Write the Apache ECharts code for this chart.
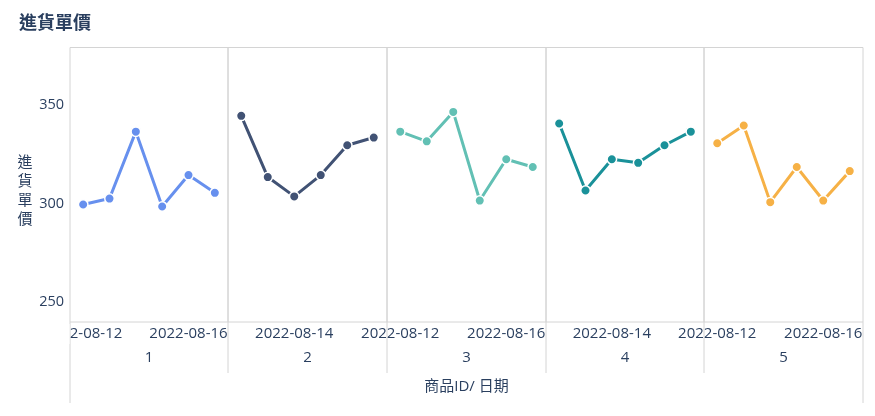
<!DOCTYPE html>
<html>
<head>
<meta charset="utf-8">
<script src="https://cdn.jsdelivr.net/npm/echarts@6/dist/echarts.min.js"></script>
<style>
html,body{margin:0;padding:0;background:#fff;}
#chart{width:875px;height:416px;}
</style>
</head>
<body>
<div id="chart"></div>
<script>
// ---- data ----
const dates = ['2022-08-12','2022-08-13','2022-08-14','2022-08-15','2022-08-16','2022-08-17'];
const productIds = ['1','2','3','4','5'];
const price1 = [299.5, 302.5, 336.4, 298.5, 314.4, 305.4];
const price2 = [344.4, 313.4, 303.6, 314.4, 329.5, 333.4];
const price3 = [336.4, 331.5, 346.4, 301.5, 322.4, 318.5];
const price4 = [340.5, 306.6, 322.4, 320.6, 329.5, 336.4];
const price5 = [330.5, 339.5, 300.7, 318.5, 301.5, 316.4];
const yTicks = [250, 300, 350];
const shownTicks = [[0,4],[2],[0,4],[2],[0,4]];
const titleText = '進貨單價';
const yTitle = '進貨單價';
const xTitle = '商品ID/ 日期';

// ---- styling / layout ----
const seriesData = [price1, price2, price3, price4, price5];
const colors = ['#6790ee', '#415274', '#62c0b4', '#1a9199', '#f6b146'];
const textColor = '#2a3f5f';
const lineColor = '#d4d4d4';
const font = '"Open Sans", "Noto Sans CJK TC", sans-serif';
const x0 = 69.5, pw = 158.7, plotTop = 47.5, plotBottom = 322;
const edge = i => Math.round(x0 + i * pw);

const grids = [], xAxes = [], yAxes = [], series = [], graphics = [];
productIds.forEach((pid, i) => {
  const l = edge(i), r = edge(i + 1);
  grids.push({ left: l, width: r - l, top: plotTop, height: plotBottom - plotTop,
    show: true, borderColor: lineColor, borderWidth: 1, backgroundColor: 'transparent' });
  xAxes.push({
    type: 'category', gridIndex: i, data: dates, boundaryGap: true,
    name: pid, nameLocation: 'middle', nameGap: 28,
    nameTextStyle: { color: textColor, fontSize: 15, fontFamily: font },
    axisLine: { show: false }, axisTick: { show: false }, splitLine: { show: false },
    axisLabel: { color: textColor, fontSize: 15, fontFamily: font, margin: 4,
      interval: (idx) => shownTicks[i].includes(idx) }
  });
  yAxes.push({
    type: 'value', gridIndex: i, min: 240, max: 379, interval: 10,
    axisLine: { show: false }, axisTick: { show: false }, splitLine: { show: false },
    axisLabel: { show: i === 0, color: textColor, fontSize: 14.5, fontFamily: font, margin: 6,
      formatter: v => yTicks.includes(v) ? String(v) : '' }
  });
  series.push({
    type: 'line', xAxisIndex: i, yAxisIndex: i, data: seriesData[i],
    symbol: 'circle', symbolSize: 9.5, showSymbol: true,
    lineStyle: { color: colors[i], width: 3 },
    itemStyle: { color: colors[i], borderColor: '#fff', borderWidth: 1.5 },
    emphasis: { disabled: true }, animation: false
  });
});
// facet separator extensions below the plot
for (let i = 0; i <= productIds.length; i++) {
  const outer = (i === 0 || i === productIds.length);
  graphics.push({ type: 'line', shape: { x1: edge(i), y1: plotBottom, x2: edge(i), y2: outer ? 403 : 373 },
    style: { stroke: lineColor, lineWidth: 1 }, z: 1 });
}
// clip the overflowing first tick label at the plot's left edge
graphics.push({ type: 'rect', shape: { x: 0, y: plotBottom + 2, width: edge(0) - 0.5, height: 20 },
  style: { fill: '#fff' }, z: 100 });
graphics.push({ type: 'text', x: 25, y: 191, z: 101,
  style: { text: yTitle.split('').join('\n'), fill: textColor, fontSize: 15, fontFamily: font,
    lineHeight: 19, textAlign: 'center', textVerticalAlign: 'middle' } });
graphics.push({ type: 'text', x: (edge(0) + edge(productIds.length)) / 2, y: 387, z: 101,
  style: { text: xTitle, fill: textColor, fontSize: 15, fontFamily: font,
    textAlign: 'center', textVerticalAlign: 'middle' } });

const chart = echarts.init(document.getElementById('chart'), null, { renderer: 'canvas' });
chart.setOption({
  animation: false,
  backgroundColor: '#fff',
  title: { text: titleText, left: 14, top: 10,
    textStyle: { color: textColor, fontSize: 18, fontWeight: 'bold', fontFamily: font } },
  grid: grids, xAxis: xAxes, yAxis: yAxes, series: series,
  graphic: { elements: graphics }
});
</script>
</body>
</html>
